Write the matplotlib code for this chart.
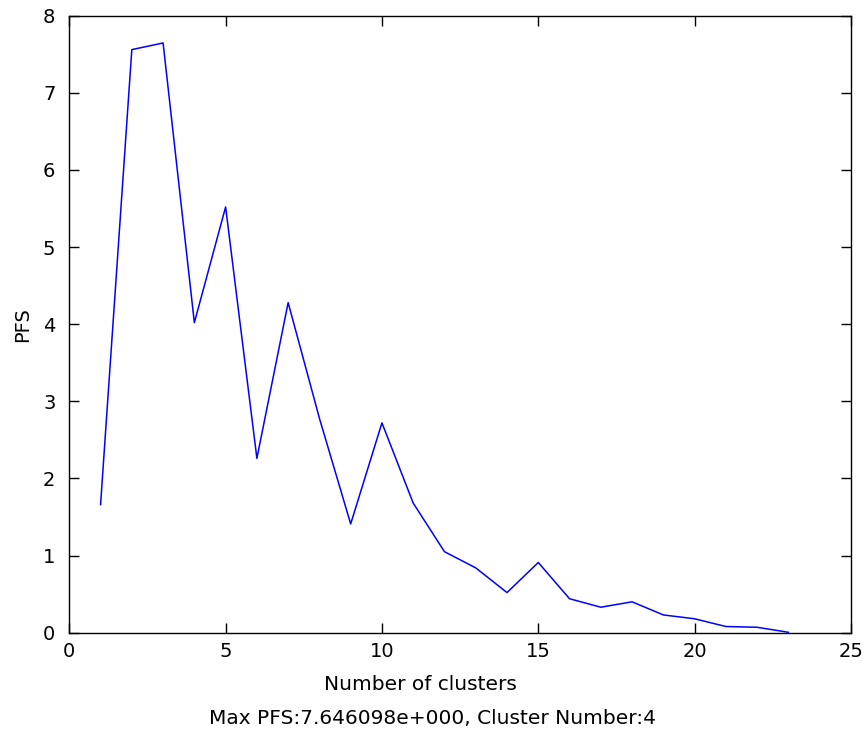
import matplotlib
matplotlib.use("Agg")
from matplotlib import pyplot as plt

plt.rcParams['font.family'] = ['DejaVu Sans']

clusters = list(range(1, 24))
pfs = [1.66, 7.56, 7.646098, 4.02, 5.52, 2.26, 4.28, 2.78, 1.41, 2.72,
       1.68, 1.05, 0.84, 0.52, 0.91, 0.44, 0.33, 0.40, 0.23, 0.18,
       0.08, 0.07, 0.005]
x_ticks = [0, 5, 10, 15, 20, 25]
y_ticks = [0, 1, 2, 3, 4, 5, 6, 7, 8]

fig = plt.figure(figsize=(8.63, 7.36), dpi=100)
ax = fig.add_axes([0.0803, 0.1404, 0.9057, 0.8383])

ax.plot(clusters, pfs, color=(0, 0, 1), linewidth=1.1)

ax.set_xlim(0, 25)
ax.set_ylim(0, 8)
ax.set_xticks(x_ticks)
ax.set_yticks(y_ticks)
ax.tick_params(direction='in', top=True, right=True, length=7, width=1,
               labelsize=14)
ax.tick_params(axis='x', pad=7)
ax.tick_params(axis='y', pad=10)
for s in ax.spines.values():
    s.set_linewidth(1)

ax.set_ylabel('PFS', fontsize=14, labelpad=8)
fig.text(420 / 863, 1 - 684 / 736, 'Number of clusters', fontsize=14.5,
         ha='center', va='center')
fig.text(432 / 863, 1 - 719 / 736, 'Max PFS:7.646098e+000, Cluster Number:4',
         fontsize=14.5, ha='center', va='center')

fig.savefig('out.png', dpi=100)
